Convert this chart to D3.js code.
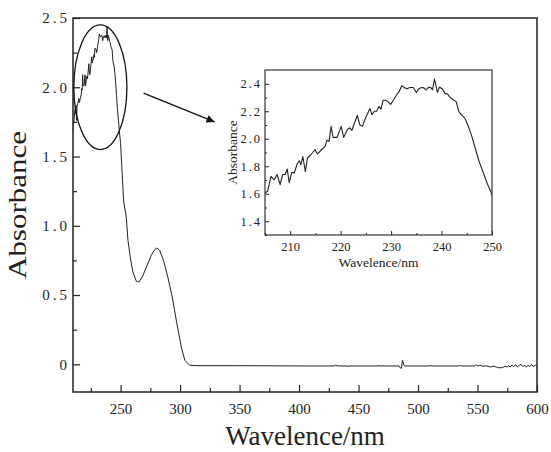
<!DOCTYPE html>
<html>
<head>
<meta charset="utf-8">
<script src="https://cdn.jsdelivr.net/npm/d3@7"></script>
<style>
  body { margin: 0; background: #fff; }
  svg { display: block; }
  text { font-family: "Liberation Serif", "DejaVu Serif", serif; fill: #222; }
</style>
</head>
<body>
<div id="chart"></div>
<script>
// --- Data ---
const wavelength = [
  205, 205.5, 206.2, 206.8, 207.4, 208, 208.5, 209, 209.4, 209.8, 210.3, 210.8, 211.4, 211.8, 212.1, 212.5,
  213, 213.4, 214, 214.9, 215.4, 216.2, 216.9, 217.3, 217.7, 218.1, 218.5, 219.3, 220.1, 220.6, 221.3, 221.8,
  222.2, 222.6, 223.3, 223.8, 224.3, 224.8, 225.8, 226.2, 226.7, 227.1, 227.6, 228, 228.4, 228.9, 229.4, 229.9,
  230.5, 231.1, 231.6, 232.1, 232.7, 233.2, 233.7, 234.4, 235, 235.5, 236, 236.5, 236.9, 237.3, 237.8, 238.2,
  238.6, 239.2, 239.6, 240.2, 240.7, 241.2, 241.7, 242.3, 242.9, 243.4, 243.9, 244.6, 245.2, 245.9, 246.6, 247.4,
  248.2, 249, 250, 251.2, 252.5, 254.8, 256.2, 258.1, 260.3, 263.2, 265.4, 268.2, 271.6, 275.8, 278.6, 280.5,
  282.8, 286.1, 289.7, 293.4, 296.8, 301, 304, 308, 315, 350, 400, 430, 431, 432, 441, 441.6, 442,
  466.5, 467, 467.5, 484, 485, 486, 487, 488, 489, 510, 510.5, 511, 535, 535.7, 536.3, 548, 549, 550.5,
  552, 553.5, 558, 561, 563, 566, 568, 571, 573, 575, 576, 577.5, 579, 580.5, 582, 583.5, 585, 586.5,
  588, 589.5, 591, 592.5, 594, 595.5, 597, 598.5, 600
];
const absorbance = [
  1.606, 1.618, 1.727, 1.70, 1.74, 1.666, 1.74, 1.74, 1.78, 1.68, 1.756, 1.75, 1.82, 1.84, 1.81, 1.87,
  1.76, 1.86, 1.88, 1.92, 1.89, 1.92, 1.945, 1.99, 1.98, 2.09, 2.01, 2.01, 2.09, 2.01, 2.066, 2.08,
  2.06, 2.10, 2.17, 2.10, 2.09, 2.14, 2.22, 2.175, 2.20, 2.20, 2.235, 2.216, 2.28, 2.28, 2.27, 2.25,
  2.284, 2.32, 2.344, 2.385, 2.37, 2.364, 2.373, 2.373, 2.337, 2.364, 2.373, 2.37, 2.356, 2.37, 2.376, 2.356,
  2.434, 2.337, 2.376, 2.36, 2.33, 2.325, 2.30, 2.284, 2.27, 2.20, 2.175, 2.15, 2.10, 2.03, 1.94, 1.84,
  1.76, 1.68, 1.594, 1.40, 1.18, 1.06, 0.895, 0.775, 0.667, 0.60, 0.594, 0.63, 0.70, 0.787, 0.828, 0.84,
  0.823, 0.75, 0.63, 0.486, 0.318, 0.125, 0.029, -0.007, -0.01, -0.01, -0.012, -0.012, -0.005, -0.012, -0.012, -0.018, -0.012,
  -0.012, -0.006, -0.012, -0.012, -0.025, -0.03, 0.03, -0.005, -0.012, -0.012, -0.006, -0.012, -0.012, -0.006, -0.012, -0.012, -0.004, -0.013,
  -0.006, -0.013, -0.012, -0.02, -0.013, -0.02, -0.025, -0.024, -0.015, -0.02, -0.01, -0.02, -0.005, -0.018, -0.002, -0.02, -0.008, 0.0,
  -0.018, -0.005, -0.02, -0.008, -0.015, -0.002, -0.018, -0.005, -0.015
];
const mainXTicks = [250, 300, 350, 400, 450, 500, 550, 600];
const mainYTicks = [0, 0.5, 1.0, 1.5, 2.0, 2.5];
const insetXTicks = [210, 220, 230, 240, 250];
const insetYTicks = [1.4, 1.6, 1.8, 2.0, 2.2, 2.4];

const points = wavelength.map((w, i) => ({ w, a: absorbance[i] }));

// --- Dimensions ---
const width = 551;
const height = 452;
const main = { left: 73, right: 537, top: 18, bottom: 392 };
const inset = { left: 265, right: 492, top: 70, bottom: 235 };

const svg = d3.select("#chart").append("svg")
  .attr("width", width)
  .attr("height", height);

// --- Scales ---
const x = d3.scaleLinear().domain([210, 600]).range([main.left, main.right]);
const y = d3.scaleLinear().domain([-0.2, 2.5]).range([main.bottom, main.top]);
const xi = d3.scaleLinear().domain([205, 250]).range([inset.left, inset.right]);
const yi = d3.scaleLinear().domain([1.3, 2.5]).range([inset.bottom, inset.top]);

const defs = svg.append("defs");
defs.append("clipPath").attr("id", "clip-main").append("rect")
  .attr("x", main.left).attr("y", main.top)
  .attr("width", main.right - main.left).attr("height", main.bottom - main.top);
defs.append("clipPath").attr("id", "clip-inset").append("rect")
  .attr("x", inset.left).attr("y", inset.top)
  .attr("width", inset.right - inset.left).attr("height", inset.bottom - inset.top);
defs.append("marker")
  .attr("id", "arrow")
  .attr("viewBox", "0 0 10 10")
  .attr("refX", 10).attr("refY", 5)
  .attr("markerWidth", 10).attr("markerHeight", 8)
  .attr("markerUnits", "userSpaceOnUse")
  .attr("orient", "auto")
  .append("path").attr("d", "M0,0 L10,5 L0,10 Z").attr("fill", "#111");

// --- Main axes ---
function styleAxis(g, fontSize) {
  g.select(".domain").remove();
  g.selectAll("line").attr("stroke", "#222").attr("stroke-width", 1.2);
  g.selectAll("text").attr("font-size", fontSize).attr("fill", "#222")
    .style("font-family", "'Liberation Serif', 'DejaVu Serif', serif");
}

const fmtY = d => d === 0 ? "0" : d.toFixed(1);

svg.append("g")
  .attr("transform", `translate(0,${main.bottom})`)
  .call(d3.axisBottom(x).tickValues(d3.range(225, 600, 50)).tickSize(-4).tickFormat(""))
  .call(g => styleAxis(g, 15));
svg.append("g")
  .attr("transform", `translate(0,${main.bottom})`)
  .call(d3.axisBottom(x).tickValues(mainXTicks).tickSize(-7).tickPadding(11).tickFormat(d3.format("d")))
  .call(g => styleAxis(g, 15));

svg.append("g")
  .attr("transform", `translate(${main.left},0)`)
  .call(d3.axisLeft(y).tickValues([0.25, 0.75, 1.25, 1.75, 2.25]).tickSize(-4).tickFormat(""))
  .call(g => styleAxis(g, 15));
svg.append("g")
  .attr("transform", `translate(${main.left},0)`)
  .call(d3.axisLeft(y).tickValues(mainYTicks).tickSize(-7).tickPadding(3).tickFormat(fmtY))
  .call(g => styleAxis(g, 15))
  .call(g => g.selectAll("text").style("letter-spacing", "3px"));

// frame
svg.append("rect")
  .attr("x", main.left).attr("y", main.top)
  .attr("width", main.right - main.left).attr("height", main.bottom - main.top)
  .attr("fill", "none").attr("stroke", "#222").attr("stroke-width", 1.5);

// --- Main line ---
const line = d3.line().x(d => x(d.w)).y(d => y(d.a));
svg.append("path")
  .datum(points.filter(d => d.w >= 209))
  .attr("clip-path", "url(#clip-main)")
  .attr("fill", "none")
  .attr("stroke", "#222")
  .attr("stroke-width", 1)
  .attr("stroke-linejoin", "round")
  .attr("d", line);

// labels
svg.append("text")
  .attr("x", (main.left + main.right) / 2)
  .attr("y", 445)
  .attr("text-anchor", "middle")
  .attr("font-size", 27)
  .text("Wavelence/nm");

svg.append("text")
  .attr("transform", `translate(26,${(main.top + main.bottom) / 2})rotate(-90)`)
  .attr("text-anchor", "middle")
  .attr("font-size", 26)
  .attr("textLength", 148)
  .attr("lengthAdjust", "spacingAndGlyphs")
  .text("Absorbance");

// --- Ellipse + arrow annotation ---
svg.append("ellipse")
  .attr("cx", x(233)).attr("cy", y(2.0))
  .attr("rx", x(255.3) - x(233)).attr("ry", y(1.55) - y(2.0))
  .attr("fill", "none").attr("stroke", "#111").attr("stroke-width", 1.3);

svg.append("line")
  .attr("x1", x(269.3)).attr("y1", y(1.957))
  .attr("x2", x(329)).attr("y2", y(1.75))
  .attr("stroke", "#111").attr("stroke-width", 1.3)
  .attr("marker-end", "url(#arrow)");

// --- Inset ---
const gi = svg.append("g");
gi.append("rect")
  .attr("x", inset.left).attr("y", inset.top)
  .attr("width", inset.right - inset.left).attr("height", inset.bottom - inset.top)
  .attr("fill", "#fff");

gi.append("g")
  .attr("transform", `translate(0,${inset.bottom})`)
  .call(d3.axisBottom(xi).tickValues(d3.range(205, 250, 10)).tickSize(-2).tickFormat(""))
  .call(g => styleAxis(g, 12.5));
gi.append("g")
  .attr("transform", `translate(0,${inset.bottom})`)
  .call(d3.axisBottom(xi).tickValues(insetXTicks).tickSize(-4).tickPadding(7).tickFormat(d3.format("d")))
  .call(g => styleAxis(g, 12.5));
gi.append("g")
  .attr("transform", `translate(${inset.left},0)`)
  .call(d3.axisLeft(yi).tickValues([1.3, 1.5, 1.7, 1.9, 2.1, 2.3]).tickSize(-2).tickFormat(""))
  .call(g => styleAxis(g, 12.5));
gi.append("g")
  .attr("transform", `translate(${inset.left},0)`)
  .call(d3.axisLeft(yi).tickValues(insetYTicks).tickSize(-4).tickPadding(3).tickFormat(d => d.toFixed(1)))
  .call(g => styleAxis(g, 12.5))
  .call(g => g.selectAll("text").style("letter-spacing", "2px"));

gi.selectAll("line").attr("stroke-width", 1);

gi.append("rect")
  .attr("x", inset.left).attr("y", inset.top)
  .attr("width", inset.right - inset.left).attr("height", inset.bottom - inset.top)
  .attr("fill", "none").attr("stroke", "#333").attr("stroke-width", 1.2);

const lineI = d3.line().x(d => xi(d.w)).y(d => yi(d.a));
gi.append("path")
  .datum(points.filter(d => d.w <= 251.2))
  .attr("clip-path", "url(#clip-inset)")
  .attr("fill", "none")
  .attr("stroke", "#222")
  .attr("stroke-width", 1.1)
  .attr("stroke-linejoin", "round")
  .attr("d", lineI);

gi.append("text")
  .attr("x", (inset.left + inset.right) / 2)
  .attr("y", 267)
  .attr("text-anchor", "middle")
  .attr("font-size", 13.5)
  .text("Wavelence/nm");

gi.append("text")
  .attr("transform", `translate(237,${(inset.top + inset.bottom) / 2})rotate(-90)`)
  .attr("text-anchor", "middle")
  .attr("font-size", 13.5)
  .text("Absorbance");
</script>
</body>
</html>
